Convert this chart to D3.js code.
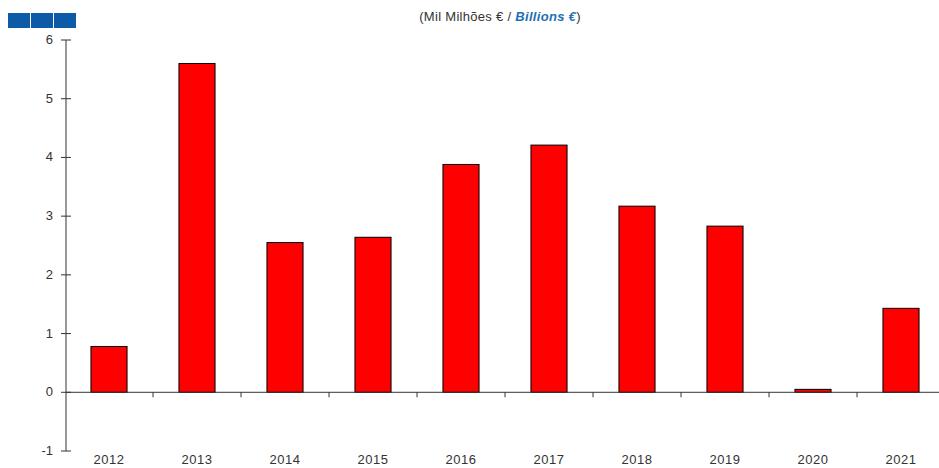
<!DOCTYPE html>
<html>
<head>
<meta charset="utf-8">
<script src="https://cdn.jsdelivr.net/npm/d3@7"></script>
<style>
  body { margin: 0; background: #fff; }
  svg text { font-family: "Liberation Sans", Arial, sans-serif; fill: #333; }
</style>
</head>
<body>
<div id="chart"></div>
<script>
// data
const years = ["2012", "2013", "2014", "2015", "2016", "2017", "2018", "2019", "2020", "2021"]
const values = [0.78, 5.6, 2.55, 2.64, 3.88, 4.21, 3.17, 2.83, 0.05, 1.43]
const yTicks = [-1, 0, 1, 2, 3, 4, 5, 6]

const width = 939, height = 468

const svg = d3.select("#chart")
    .append("svg")
    .attr("width", width)
    .attr("height", height)

// logo blocks
svg.append("g")
    .selectAll("rect")
    .data([0, 1, 2])
    .enter()
    .append("rect")
    .attr("x", d => 8 + d * 23)
    .attr("y", 13)
    .attr("width", 22)
    .attr("height", 15)
    .attr("fill", "#0d5aa7")

// title
let title = svg.append("text")
    .attr("x", 500)
    .attr("y", 21)
    .attr("text-anchor", "middle")
    .style("font-size", "13px")
    .style("letter-spacing", "0.3px")
title.append("tspan").text("(Mil Milhões € / ")
title.append("tspan").text("Billions €")
    .style("font-weight", "bold")
    .style("font-style", "italic")
    .style("fill", "#1f6fb5")
title.append("tspan").text(")")

let x = d3.scaleBand()
    .domain(years)
    .range([65, 945])
    .paddingInner(0.59)
    .paddingOuter(0.295)

let y = d3.scaleLinear()
    .domain([-1, 6])
    .range([451, 40])

// y axis
let yAxis = svg.append("g")
    .attr("transform", "translate(66,0)")
yAxis.append("line")
    .attr("y1", y(-1)).attr("y2", y(6))
    .attr("stroke", "#333")
yAxis.selectAll("line.tick")
    .data(yTicks)
    .enter()
    .append("line")
    .attr("class", "tick")
    .attr("x1", -5).attr("x2", 5)
    .attr("y1", d => y(d)).attr("y2", d => y(d))
    .attr("stroke", "#333")
yAxis.selectAll("text")
    .data(yTicks)
    .enter()
    .append("text")
    .attr("x", -13)
    .attr("y", d => y(d) + 4)
    .attr("text-anchor", "end")
    .style("font-size", "13px")
    .text(d => d)

// bars
svg.append("g")
    .selectAll("rect")
    .data(values)
    .enter()
    .append("rect")
    .attr("x", (d, i) => x(years[i]))
    .attr("y", d => y(Math.max(0, d)))
    .attr("width", x.bandwidth())
    .attr("height", d => Math.abs(y(d) - y(0)))
    .attr("fill", "#ff0000")
    .attr("stroke", "#000")
    .attr("stroke-width", 1)

// x axis at zero
let xAxis = svg.append("g")
xAxis.append("line")
    .attr("x1", 66).attr("x2", width)
    .attr("y1", y(0)).attr("y2", y(0))
    .attr("stroke", "#333")
xAxis.selectAll("line.tick")
    .data(years.slice(1))
    .enter()
    .append("line")
    .attr("class", "tick")
    .attr("x1", d => x(d) - x.step() * x.paddingInner() / 2)
    .attr("x2", d => x(d) - x.step() * x.paddingInner() / 2)
    .attr("y1", y(0)).attr("y2", y(0) + 5)
    .attr("stroke", "#333")
xAxis.selectAll("text")
    .data(years)
    .enter()
    .append("text")
    .attr("x", d => x(d) + x.bandwidth() / 2)
    .attr("y", 464)
    .attr("text-anchor", "middle")
    .style("font-size", "13px")
    .style("letter-spacing", "0.5px")
    .text(d => d)
</script>
</body>
</html>
